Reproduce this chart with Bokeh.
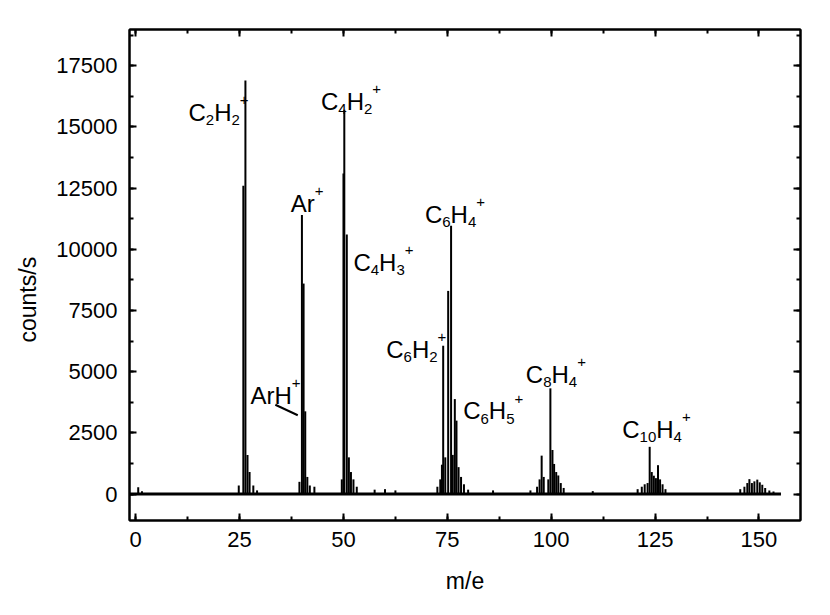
from bokeh.plotting import figure
from bokeh.models import Label, Range1d, LinearAxis, SingleIntervalTicker, CustomJSTickFormatter, Title
from bokeh.embed import file_html
from bokeh.resources import INLINE

# ---- data ----
peak_mz = [0.6, 1.5,
           24.8, 25.9, 26.4, 26.9, 27.4, 28.3, 29.2,
           39.4, 40.0, 40.4, 40.8, 41.3, 41.9, 43.0,
           49.6, 50.0, 50.2, 50.8, 51.3, 51.8, 52.4, 53.2, 57.5, 60.0, 62.5,
           72.6, 73.3, 73.7, 74.0, 74.5, 75.2, 75.9, 76.3, 76.8, 77.2, 77.7, 78.3, 79.0, 80.0,
           86.0, 95.0, 96.6, 97.2, 97.7, 98.2, 99.3, 99.8, 100.3, 100.7, 101.2, 101.7, 102.3, 103.0,
           110.0, 120.8, 121.8, 122.5, 123.2, 123.7, 124.2, 124.7, 125.2, 125.7, 126.2, 126.8, 127.5,
           145.5, 146.5, 147.2, 147.7, 148.3, 148.9, 149.6, 150.2, 150.8, 151.5, 152.5, 153.5]
peak_counts = [280, 120,
               350, 12600, 16900, 1600, 900, 350, 150,
               500, 11400, 8600, 3380, 700, 350, 300,
               600, 13100, 15700, 10600, 1500, 900, 600, 300, 180, 200, 150,
               300, 600, 1200, 6060, 1500, 8300, 10960, 1600, 3880, 3000, 1100, 700, 400, 180,
               150, 150, 300, 600, 1570, 700, 600, 4320, 1800, 1230, 900, 760, 450, 250,
               120, 200, 300, 400, 450, 1930, 900, 750, 650, 1180, 600, 400, 200,
               200, 300, 450, 610, 450, 520, 590, 480, 380, 250, 150, 100]
baseline_mz = [-1.5, 155.3]
baseline_counts = [0, 0]

x_ticks = [0, 25, 50, 75, 100, 125, 150]
y_ticks = [0, 2500, 5000, 7500, 10000, 12500, 15000, 17500]

label_texts = ["C_2H_2^+", "C_4H_2^+", "Ar^+", "C_4H_3^+", "ArH^+",
               "C_6H_2^+", "C_6H_4^+", "C_6H_5^+", "C_8H_4^+", "C_{10}H_4^+"]
label_x = [12.7, 44.6, 37.3, 52.4, 27.6, 60.3, 69.6, 78.8, 93.9, 117.1]
label_y = [15590, 16040, 11875, 9465, 4030, 5920, 11440, 3400, 4900, 2655]
pointer_x = [33.6, 39.0]
pointer_y = [3650, 3220]

x_title = "m/e"
y_title = "counts/s"

FONT = "Liberation Sans"
MAIN = 24
SMALL = 15
WID = {"C": 0.722, "H": 0.722, "A": 0.667, "r": 0.333, "+": 0.584}


def cw(ch):
    return WID.get(ch, 0.556)


def parse(s):
    segs = []
    i = 0
    while i < len(s):
        c = s[i]
        if c in "_^":
            kind = "sub" if c == "_" else "sup"
            if s[i + 1] == "{":
                j = s.index("}", i)
                segs.append((s[i + 2:j], kind))
                i = j + 1
            else:
                segs.append((s[i + 1], kind))
                i += 2
        else:
            segs.append((c, "main"))
            i += 1
    return segs


p = figure(width=814, height=599, output_backend="svg", toolbar_location=None,
           x_range=Range1d(-1.5, 160), y_range=Range1d(-1080, 18980),
           min_border_left=129, min_border_right=14, min_border_top=29, min_border_bottom=79,
           x_axis_label=x_title)
p.grid.visible = False
p.background_fill_color = "white"
p.outline_line_color = "black"
p.outline_line_width = 2

p.line(baseline_mz, baseline_counts, line_color="black", line_width=3)
p.segment(x0=peak_mz, y0=0, x1=peak_mz, y1=peak_counts, line_color="black", line_width=2)
p.line(pointer_x, pointer_y, line_color="black", line_width=2)

for txt, lx, ly in zip(label_texts, label_x, label_y):
    off = 0.0
    for s, kind in parse(txt):
        size = MAIN if kind == "main" else SMALL
        yo = 0 if kind == "main" else (-8 if kind == "sub" else 12)
        p.add_layout(Label(x=lx, y=ly, x_offset=off, y_offset=yo, text=s,
                           text_font=FONT, text_font_size=f"{size}px",
                           text_color="black", text_baseline="alphabetic", text_align="left"))
        off += sum(cw(ch) for ch in s) * size

bottom_ax = p.below[0]
left_ax = p.left[0]
bottom_ax.ticker = SingleIntervalTicker(interval=25, num_minor_ticks=2)
left_ax.ticker = SingleIntervalTicker(interval=2500, num_minor_ticks=2)

p.add_layout(Title(text=y_title, align="left", offset=178, standoff=25,
                   text_font=FONT, text_font_size="23px", text_font_style="normal",
                   text_color="black"), "left")

blank = CustomJSTickFormatter(code="return ''")
ax_r = LinearAxis(ticker=SingleIntervalTicker(interval=2500, num_minor_ticks=2), formatter=blank)
ax_t = LinearAxis(ticker=SingleIntervalTicker(interval=25, num_minor_ticks=2), formatter=blank)
for ax in (ax_r, ax_t):
    ax.major_label_standoff = 0
p.add_layout(ax_r, "right")
p.add_layout(ax_t, "above")

for ax in (bottom_ax, left_ax, ax_r, ax_t):
    ax.axis_line_width = 2
    ax.axis_line_color = "black"
    ax.major_tick_in = 7
    ax.major_tick_out = 0
    ax.minor_tick_in = 4
    ax.minor_tick_out = 0
    ax.major_tick_line_width = 2
    ax.minor_tick_line_width = 2
    ax.major_tick_line_color = "black"
    ax.minor_tick_line_color = "black"

for ax in (bottom_ax, left_ax):
    ax.major_label_text_font = FONT
    ax.major_label_text_font_size = "22px"
    ax.major_label_text_color = "black"
    ax.axis_label_text_font = FONT
    ax.axis_label_text_font_size = "23px"
    ax.axis_label_text_font_style = "normal"
    ax.axis_label_text_color = "black"
bottom_ax.major_label_standoff = 11
left_ax.major_label_standoff = 12
bottom_ax.axis_label_standoff = 18

open("out.html", "w").write(file_html(p, INLINE))
